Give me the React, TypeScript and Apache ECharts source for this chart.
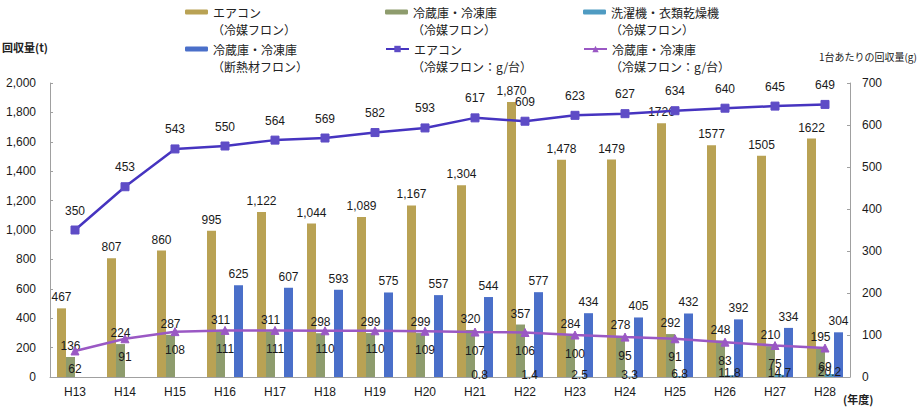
import React, { useEffect, useRef } from "react";
import * as echarts from "echarts";

const categories = ["H13", "H14", "H15", "H16", "H17", "H18", "H19", "H20", "H21", "H22", "H23", "H24", "H25", "H26", "H27", "H28"];
const acRefrigerant = [467, 807, 860, 995, 1122, 1044, 1089, 1167, 1304, 1870, 1478, 1479, 1726, 1577, 1505, 1622];
const fridgeRefrigerant = [136, 224, 287, 311, 311, 298, 299, 299, 320, 357, 284, 278, 292, 248, 210, 195];
const washerRefrigerant = [null, null, null, null, null, null, null, null, 0.8, 1.4, 2.5, 3.3, 6.8, 11.8, 14.7, 20.2];
const fridgeInsulation = [null, null, null, 625, 607, 593, 575, 557, 544, 577, 434, 405, 432, 392, 334, 304];
const acPerUnit = [350, 453, 543, 550, 564, 569, 582, 593, 617, 609, 623, 627, 634, 640, 645, 649];
const fridgePerUnit = [62, 91, 108, 111, 111, 110, 110, 109, 107, 106, 100, 95, 91, 83, 75, 69];
// labels after H23 in the source are printed without thousands separators
const commaLabelCount = 11;

// legend texts: first line and second line
const legendMain = ["エアコン", "冷蔵庫・冷凍庫", "洗濯機・衣類乾燥機", "冷蔵庫・冷凍庫", "エアコン", "冷蔵庫・冷凍庫"];
const legendSubs = ["（冷媒フロン）", "（冷媒フロン）", "（冷媒フロン）", "（断熱材フロン）", "（冷媒フロン：g/台）", "（冷媒フロン：g/台）"];
const seriesNames = legendMain.map((m, i) => m + legendSubs[i]);

const FONT = "'Liberation Sans', Arial, 'Noto Sans CJK JP', sans-serif";
const JFONT = "'Noto Sans CJK JP', sans-serif";

const C_AC = "#B9A254";
const C_FR = "#8E9C6D";
const C_WA = "#4F9BC2";
const C_IN = "#4A6FC9";
const C_L1 = "#4634C0";
const C_L2 = "#9A58C4";

const labelBase = { fontFamily: FONT, fontSize: 12, color: "#1a1a1a" };

const legendCols = [185, 385, 583];
const legendRows = [12, 49];

function legendItem(i: number, isLine: boolean) {
  const col = i % 3;
  const row = Math.floor(i / 3);
  return {
    data: [seriesNames[i]],
    left: legendCols[col],
    top: legendRows[row] - 8,
    itemWidth: 23,
    itemHeight: isLine ? 8 : 5,
    itemGap: 0,
    padding: 0,
    selectedMode: false,
    formatter: () => legendMain[i],
    textStyle: {
      fontFamily: JFONT,
      fontSize: 12,
      color: "#222",
      lineHeight: 16,
    },
  };
}

export default function App() {
  const ref = useRef<HTMLDivElement>(null);
  useEffect(() => {
    if (!ref.current) return;
    const chart = echarts.init(ref.current, undefined, { renderer: "svg" });
    const barCommon = {
      type: "bar",
      yAxisIndex: 0,
      barGap: "0%",
      barCategoryGap: "28%",
    };
    const subTexts = legendSubs.map((t, i) => ({
      type: "text",
      x: legendCols[i % 3] + 27,
      y: legendRows[Math.floor(i / 3)] + 17,
      style: { text: t, fontFamily: JFONT, fontSize: 12, fill: "#222", verticalAlign: "middle" },
    }));
    chart.setOption({
      animation: false,
      backgroundColor: "#fff",
      legend: [
        legendItem(0, false),
        legendItem(1, false),
        legendItem(2, false),
        legendItem(3, false),
        legendItem(4, true),
        legendItem(5, true),
      ],
      grid: { left: 50, right: 70, top: 83, bottom: 31 },
      xAxis: {
        type: "category",
        data: categories,
        boundaryGap: true,
        axisLine: { lineStyle: { color: "#a0a0a0", width: 1 } },
        axisTick: { inside: true, length: 3, lineStyle: { color: "#a0a0a0" } },
        axisLabel: { fontFamily: FONT, fontSize: 12, color: "#1a1a1a", margin: 9 },
      },
      yAxis: [
        {
          type: "value",
          min: 0,
          max: 2000,
          interval: 200,
          splitLine: { show: false },
          axisLine: { show: true, lineStyle: { color: "#a0a0a0" } },
          axisTick: { show: true, inside: true, length: 3, lineStyle: { color: "#a0a0a0" } },
          axisLabel: {
            fontFamily: FONT,
            fontSize: 12,
            color: "#1a1a1a",
            margin: 14,
            formatter: (v: number) => v.toLocaleString("en-US"),
          },
        },
        {
          type: "value",
          min: 0,
          max: 700,
          interval: 100,
          splitLine: { show: false },
          axisLine: { show: true, lineStyle: { color: "#a0a0a0" } },
          axisTick: { show: true, inside: true, length: 3, lineStyle: { color: "#a0a0a0" } },
          axisLabel: { fontFamily: FONT, fontSize: 12, color: "#1a1a1a", margin: 12 },
        },
      ],
      series: [
        {
          ...barCommon,
          name: seriesNames[0],
          data: acRefrigerant,
          itemStyle: { color: C_AC },
          label: {
            show: true,
            position: "top",
            ...labelBase,
            formatter: (p: any) =>
              p.dataIndex < commaLabelCount ? Number(p.value).toLocaleString("en-US") : String(p.value),
          },
        },
        {
          ...barCommon,
          name: seriesNames[1],
          data: fridgeRefrigerant,
          itemStyle: { color: C_FR },
          label: { show: true, position: "top", ...labelBase },
        },
        {
          ...barCommon,
          name: seriesNames[2],
          data: washerRefrigerant,
          itemStyle: { color: C_WA },
          label: { show: true, position: "top", offset: [0, 9], ...labelBase },
        },
        {
          ...barCommon,
          name: seriesNames[3],
          data: fridgeInsulation,
          itemStyle: { color: C_IN },
          label: { show: true, position: "top", ...labelBase },
        },
        {
          type: "line",
          name: seriesNames[4],
          yAxisIndex: 1,
          data: acPerUnit,
          symbol: "rect",
          symbolSize: 8,
          lineStyle: { color: C_L1, width: 2.5 },
          itemStyle: { color: "#5E4CC6", borderColor: "#5E4CC6" },
          label: { show: true, position: "top", distance: 9, ...labelBase },
          z: 5,
        },
        {
          type: "line",
          name: seriesNames[5],
          yAxisIndex: 1,
          data: fridgePerUnit,
          symbol: "triangle",
          symbolSize: 8,
          lineStyle: { color: C_L2, width: 2.5 },
          itemStyle: { color: C_L2, borderColor: C_L2 },
          label: { show: true, position: "bottom", distance: 8, ...labelBase },
          z: 5,
        },
      ],
      graphic: [
        ...subTexts,
        {
          type: "text",
          left: 2,
          top: 41,
          style: { text: "回収量(t)", fontFamily: JFONT, fontSize: 11, fill: "#222", fontWeight: "bold" },
        },
        {
          type: "text",
          right: 3,
          top: 51,
          style: { text: "1台あたりの回収量(g)", fontFamily: JFONT, fontSize: 10, fill: "#222" },
        },
        {
          type: "text",
          left: 843,
          top: 393,
          style: { text: "(年度)", fontFamily: JFONT, fontSize: 11, fill: "#222", fontWeight: "bold" },
        },
      ],
    });
    return () => chart.dispose();
  }, []);
  return <div ref={ref} style={{ width: 920, height: 408, position: "absolute", left: 0, top: 0 }} />;
}
